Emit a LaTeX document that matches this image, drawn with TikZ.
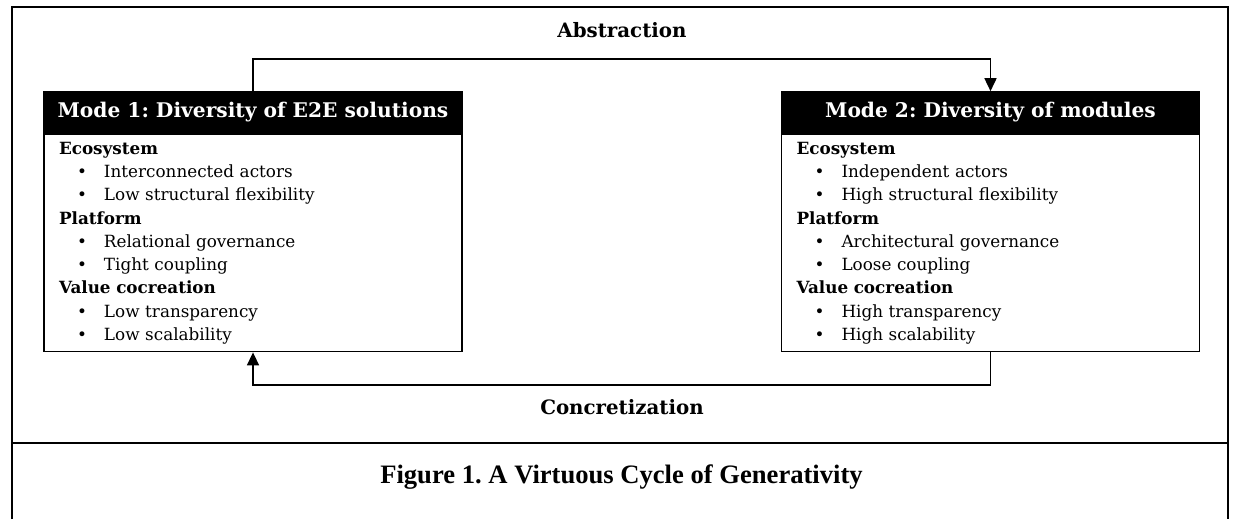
\documentclass[tikz,border=0pt]{standalone}
\usepackage{fontspec}
\setmainfont{DejaVu Serif}
\newfontfamily\capfont{Liberation Serif}
\usetikzlibrary{arrows.meta,positioning}
\frenchspacing

\newcommand{\modesec}[1]{\textbf{#1}}
\newcommand{\modept}[1]{\hspace*{9pt}\makebox[13.5pt][l]{\textbullet}#1}

\tikzset{
  modehead/.style={fill=black, draw=black, line width=0.8pt, text=white,
    font=\fontsize{10.1}{12}\selectfont\bfseries,
    minimum width=209pt, minimum height=20.5pt, inner sep=0pt},
  modebody/.style={draw=black, line width=0.8pt, align=left,
    text width=194pt, inner xsep=7.5pt, inner ysep=0pt,
    minimum height=108.5pt, font=\fontsize{8.4}{11.65}\selectfont},
  flow/.style={line width=0.8pt, -{Triangle[length=6.5pt,width=6pt]}},
  frame/.style={line width=1.4pt},
  cyclelabel/.style={font=\fontsize{9.9}{12}\selectfont\bfseries}
}

\begin{document}
\begin{tikzpicture}[x=0.5pt, y=-0.5pt]
  \useasboundingbox (0,0) rectangle (1235,519);

  % frame and caption
  \draw[frame] (12,519) |- (1228,7) -- (1228,519);
  \draw[frame] (12,443) -- (1228,443);
  \node[font=\capfont\fontsize{13.3}{15}\selectfont\bfseries] (caption) at (621.5,477)
    {Figure 1. A Virtuous Cycle of Generativity};

  % the two modes
  \node[modehead] (hdr1) at (253,112.5) {Mode 1: Diversity of E2E solutions};
  \node[modebody, below=0pt of hdr1] (body1) {%
    \modesec{Ecosystem}\\
    \modept{Interconnected actors}\\
    \modept{Low structural flexibility}\\
    \modesec{Platform}\\
    \modept{Relational governance}\\
    \modept{Tight coupling}\\
    \modesec{Value cocreation}\\
    \modept{Low transparency}\\
    \modept{Low scalability}};

  \node[modehead] (hdr2) at (990.5,112.5) {Mode 2: Diversity of modules};
  \node[modebody, below=0pt of hdr2] (body2) {%
    \modesec{Ecosystem}\\
    \modept{Independent actors}\\
    \modept{High structural flexibility}\\
    \modesec{Platform}\\
    \modept{Architectural governance}\\
    \modept{Loose coupling}\\
    \modesec{Value cocreation}\\
    \modept{High transparency}\\
    \modept{High scalability}};

  % the cycle
  \coordinate (abs) at (622,59);
  \coordinate (con) at (622,385);
  \node[cyclelabel] (abslabel) at (622,30) {Abstraction};
  \node[cyclelabel] (conlabel) at (622,407) {Concretization};
  \draw[flow] (hdr1.north) |- (abs) -| (hdr2.north);
  \draw[flow] (body2.south) |- (con) -| (body1.south);
\end{tikzpicture}
\end{document}
